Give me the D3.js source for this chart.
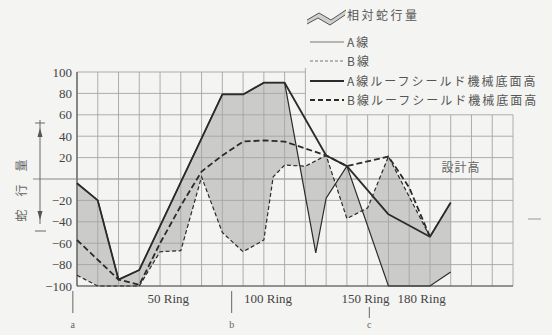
<!DOCTYPE html>
<html>
<head>
<meta charset="utf-8">
<script src="https://cdn.jsdelivr.net/npm/d3@7"></script>
<style>
  html, body { margin: 0; padding: 0; background: #f4f4f2; }
  svg { display: block; }
  .tick text { font-family: "Liberation Serif", "DejaVu Serif", serif; }
</style>
</head>
<body>
<svg id="chart" width="552" height="335"></svg>
<script>
// x is in grid columns (one column per survey step), y is meander amount
const yTicks = [100, 80, 60, 40, 20, -20, -40, -60, -80, -100];
const ringLabels = ['50 Ring', '100 Ring', '150 Ring', '180 Ring'];
const ringPos = [4.4, 9.2, 13.9, 16.6];
const markNames = ['a', 'b', 'c'];
const markPos = [-0.2, 7.45, 14.08];

// A線 (thin solid)
const lineA = [[0, -4], [1, -20], [2, -94], [3, -85], [4, -44], [5, -3], [6, 38], [7, 79], [8, 79], [9, 90], [10, 90],
  [11.5, -69], [12, -18], [13, 12], [15, -100], [17, -100], [18, -87]];
// B線 (thin dashed)
const lineB = [[0, -90], [1, -100], [3, -100], [4, -68], [5, -67], [6, 2], [7, -50], [8, -68], [9, -57], [9.45, 2],
  [10, 13], [11, 12], [12, 22], [13, -37], [14, -27], [15, 21], [17, -54], [18, -22]];
// A線ルーフシールド機械底面高 (thick solid)
const roofA = [[0, -4], [1, -20], [2, -94], [3, -85], [4, -44], [5, -3], [6, 38], [7, 79], [8, 79], [9, 90], [10, 90],
  [12, 22], [13, 12], [15, -33], [17, -54], [18, -22]];
// B線ルーフシールド機械底面高 (thick dashed)
const roofB = [[0, -57], [2, -94], [3, -99], [4, -60], [5, -25], [6, 7], [7, 22], [8, 35], [9, 36], [10, 35],
  [12, 22], [13, 12], [15, 21], [16, -8], [17, -54]];

const svg = d3.select('#chart');
const ink = '#2b2b2b';
const jp = '"Noto Sans CJK JP", sans-serif';
const serif = '"Liberation Serif", "DejaVu Serif", serif';

const x = d3.scaleLinear().domain([0, 21]).range([77, 513]);
const y = d3.scaleLinear().domain([-100, 100]).range([286, 72]);

const line = d3.line().x(d => x(d[0])).y(d => y(d[1]));

// relative meander: area between A and B lines
const band = lineA.map(d => [x(d[0]), y(d[1])])
  .concat(lineB.slice().reverse().map(d => [x(d[0]), y(d[1])]));
svg.append('path')
  .attr('d', 'M' + band.join('L') + 'Z')
  .attr('fill', '#cbcbc9')
  .attr('fill-rule', 'nonzero');

// grid: full height up to col 11, only up to 60 on the right
const grid = svg.append('g').attr('stroke', '#a5a5a3').attr('stroke-width', 0.9);
d3.range(0, 22).forEach(i => {
  grid.append('line')
    .attr('x1', x(i)).attr('x2', x(i))
    .attr('y1', y(-100)).attr('y2', i <= 11 ? y(100) : y(60));
});
d3.range(-100, 101, 20).concat([0]).forEach(v => {
  grid.append('line')
    .attr('x1', x(0)).attr('x2', v > 60 ? x(11) : x(21))
    .attr('y1', y(v)).attr('y2', y(v));
});
// frame
svg.append('line').attr('x1', x(0)).attr('x2', x(0)).attr('y1', y(100)).attr('y2', y(-100))
  .attr('stroke', '#555').attr('stroke-width', 1.2);
svg.append('line').attr('x1', x(0)).attr('x2', x(21)).attr('y1', y(-100)).attr('y2', y(-100))
  .attr('stroke', '#555').attr('stroke-width', 1.2);
// zero line runs out to the left
svg.append('line').attr('x1', 33).attr('x2', x(0)).attr('y1', y(0)).attr('y2', y(0))
  .attr('stroke', '#888').attr('stroke-width', 1);
svg.append('line').attr('x1', 528).attr('x2', 541).attr('y1', 219).attr('y2', 219)
  .attr('stroke', '#999').attr('stroke-width', 1);

// y axis labels
const yAxis = d3.axisLeft(y).tickValues(yTicks).tickSize(0).tickPadding(5)
  .tickFormat(d => d < 0 ? '\u2212' + Math.abs(d) : d);
const gy = svg.append('g').attr('transform', `translate(${x(0)},0)`).call(yAxis);
gy.select('.domain').remove();
gy.selectAll('text').attr('font-size', 13).attr('fill', '#444');

// series
svg.append('path').datum(lineA).attr('d', line)
  .attr('fill', 'none').attr('stroke', ink).attr('stroke-width', 1.2);
svg.append('path').datum(lineB).attr('d', line)
  .attr('fill', 'none').attr('stroke', ink).attr('stroke-width', 1.2).attr('stroke-dasharray', '4,2.5');
svg.append('path').datum(roofA).attr('d', line)
  .attr('fill', 'none').attr('stroke', ink).attr('stroke-width', 1.8).attr('stroke-linejoin', 'round');
svg.append('path').datum(roofB).attr('d', line)
  .attr('fill', 'none').attr('stroke', ink).attr('stroke-width', 1.8).attr('stroke-dasharray', '6,3');

// ring labels
svg.selectAll('.ring').data(ringLabels).enter().append('text')
  .attr('x', (d, i) => x(ringPos[i])).attr('y', 303)
  .attr('text-anchor', 'middle')
  .attr('font-family', serif).attr('font-size', 13).attr('fill', '#444')
  .text(d => d);

// a / b / c markers
markNames.forEach((m, i) => {
  const top = m === 'c' ? 307 : 291;
  svg.append('line').attr('x1', x(markPos[i])).attr('x2', x(markPos[i]))
    .attr('y1', top).attr('y2', m === 'c' ? 318 : 313)
    .attr('stroke', '#666').attr('stroke-width', 1);
  svg.append('text').attr('x', x(markPos[i])).attr('y', 328)
    .attr('text-anchor', 'middle').attr('font-family', serif).attr('font-size', 10).attr('fill', '#666')
    .text(m);
});

// vertical axis title with arrows
svg.append('text')
  .attr('transform', 'translate(26,184) rotate(-90)')
  .attr('text-anchor', 'middle')
  .attr('font-family', jp).attr('font-size', 12).attr('letter-spacing', 13).attr('fill', '#666')
  .text('蛇行量');
const arr = svg.append('g').attr('stroke', '#666').attr('fill', '#555');
arr.append('line').attr('x1', 40).attr('x2', 40).attr('y1', 120).attr('y2', 224);
arr.append('line').attr('x1', 35).attr('x2', 45).attr('y1', 123).attr('y2', 123);
arr.append('line').attr('x1', 35).attr('x2', 46).attr('y1', 231).attr('y2', 231);
arr.append('path').attr('d', 'M40,128L37.5,137L42.5,137Z').attr('stroke', 'none');
arr.append('path').attr('d', 'M40,220L37.5,211L42.5,211Z').attr('stroke', 'none');

// design height note
svg.append('text').attr('x', 461).attr('y', 172).attr('text-anchor', 'middle')
  .attr('font-family', jp).attr('font-size', 12).attr('letter-spacing', 1).attr('fill', '#666')
  .text('設計高');

// legend
const lg = svg.append('g');
const icoTop = [[307, 20], [319, 13], [331, 20], [346, 10]];
const icoBot = [[307, 24], [318, 18], [330, 25], [345, 15]];
lg.append('path').attr('d', 'M' + icoTop.concat(icoBot.slice().reverse()).join('L') + 'Z')
  .attr('fill', '#cfcfcd').attr('stroke', 'none');
lg.append('path').attr('d', 'M' + icoTop.join('L')).attr('fill', 'none').attr('stroke', '#555');
lg.append('path').attr('d', 'M' + icoBot.join('L')).attr('fill', 'none').attr('stroke', '#555');
lg.append('text').attr('x', 347).attr('y', 20)
  .attr('font-family', jp).attr('font-size', 12).attr('letter-spacing', 2.5).attr('fill', '#555')
  .text('相対蛇行量');

const legendRows = [
  { name: 'A線', y: 42, w: 1, dash: null },
  { name: 'B線', y: 61, w: 1, dash: '3,2' },
  { name: 'A線ルーフシールド機械底面高', y: 81, w: 1.8, dash: null },
  { name: 'B線ルーフシールド機械底面高', y: 100, w: 1.8, dash: '5,3' }
];
legendRows.forEach(r => {
  lg.append('line').attr('x1', 310).attr('x2', 344).attr('y1', r.y).attr('y2', r.y)
    .attr('stroke', r.w > 1 ? ink : '#777').attr('stroke-width', r.w)
    .attr('stroke-dasharray', r.dash);
  lg.append('text').attr('x', 347).attr('y', r.y + 4.5)
    .attr('font-family', jp).attr('font-size', 12).attr('letter-spacing', 2).attr('fill', '#555')
    .text(r.name);
});
// small bracket beside the legend
lg.append('line').attr('x1', x(11)).attr('x2', x(11)).attr('y1', 68).attr('y2', 72)
  .attr('stroke', '#aaa');
</script>
</body>
</html>
